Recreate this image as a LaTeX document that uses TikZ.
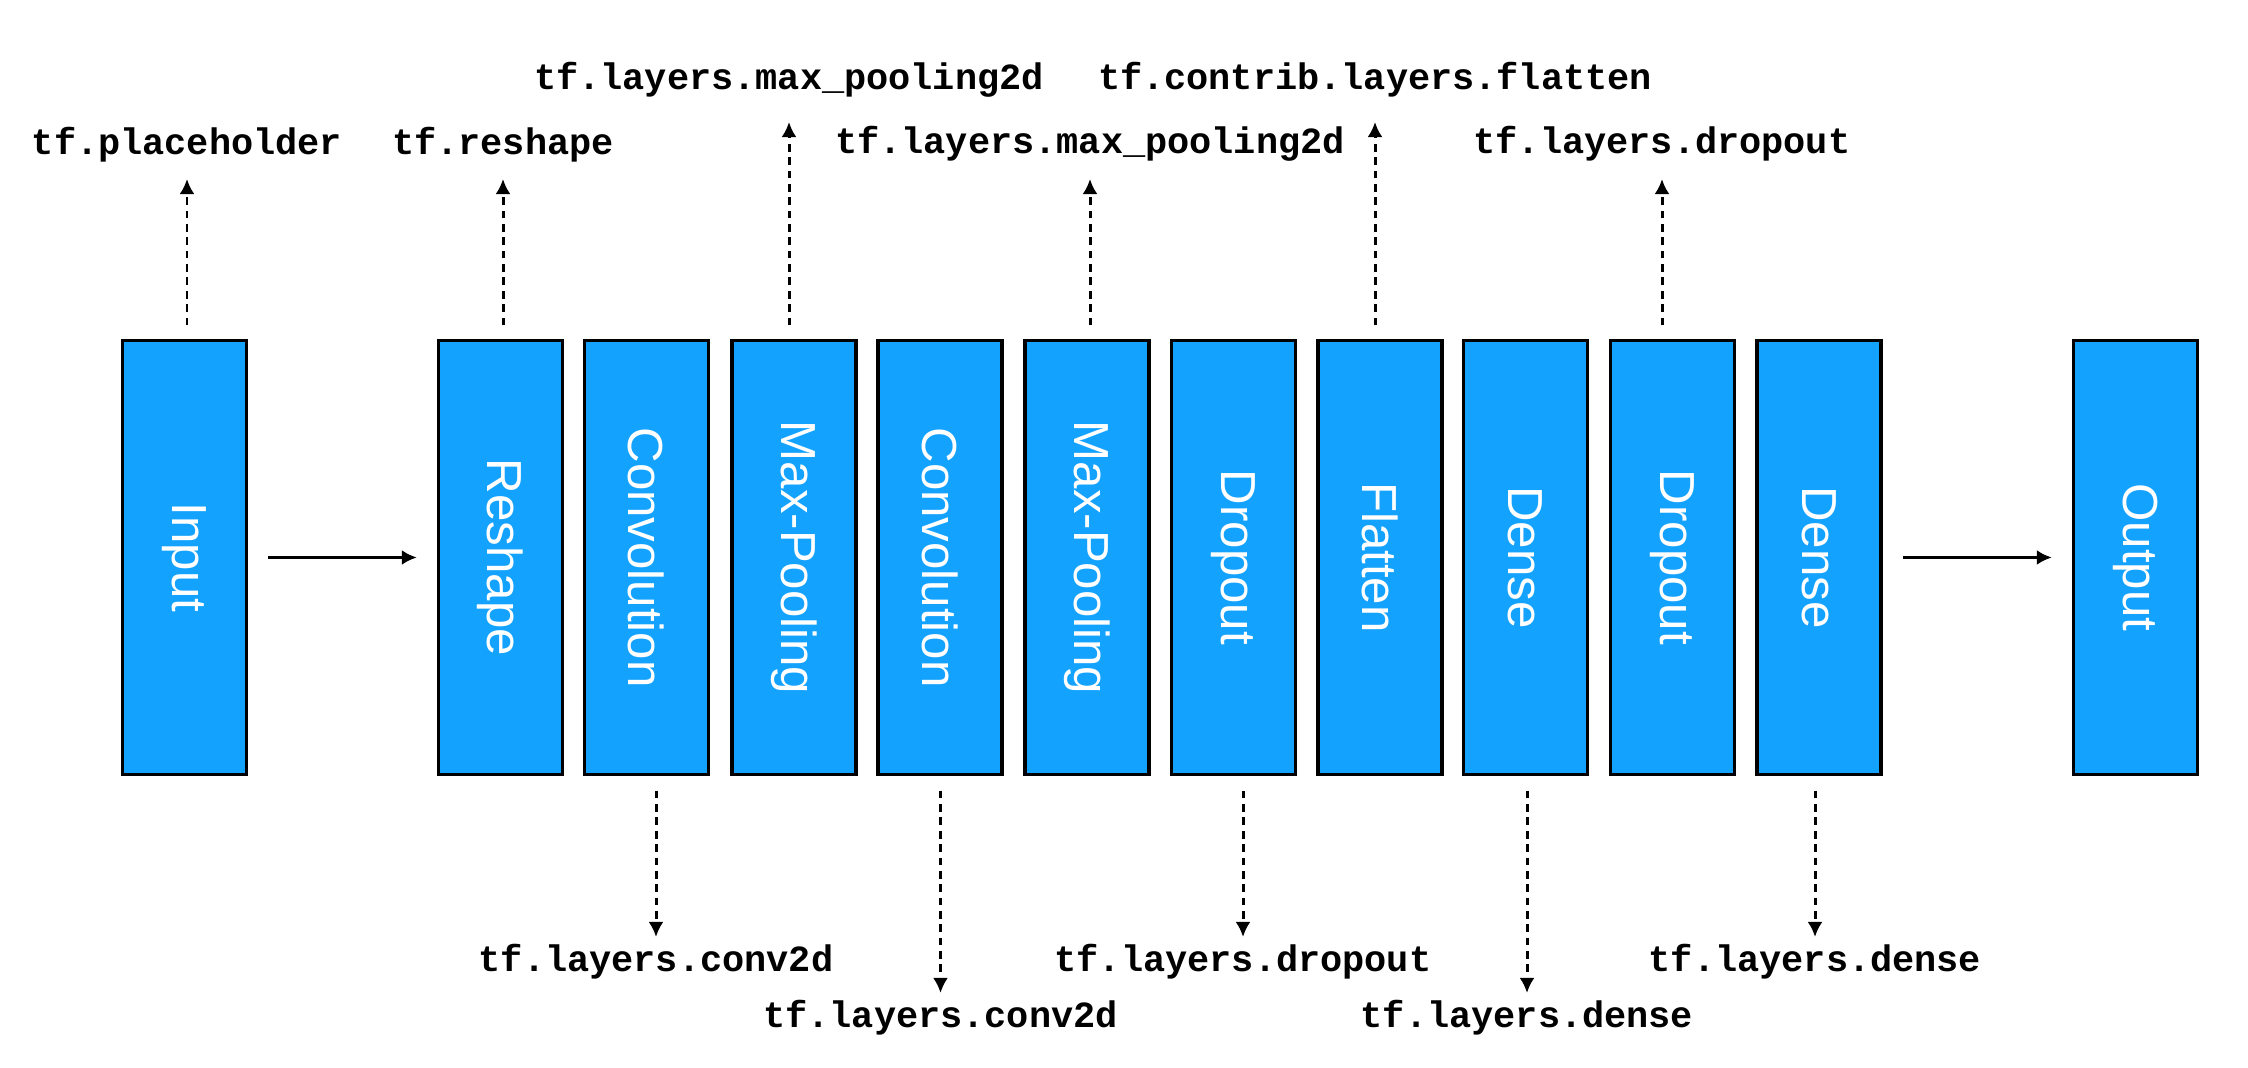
\documentclass[tikz,border=0pt]{standalone}
\usepackage{fontspec}
\setmainfont{Liberation Sans}
\setmonofont{Liberation Mono}
\usetikzlibrary{arrows.meta}
\definecolor{layerblue}{RGB}{20,162,255}

\begin{document}
\begin{tikzpicture}[x=0.01cm, y=-0.01cm]
        \tikzstyle{layer} = [draw, line width=0.9pt, fill=layerblue, minimum width=1.24cm, minimum height=4.33cm, inner sep=0pt, text=white, font=\fontsize{14}{16}\selectfont]
        \tikzstyle{api} = [anchor=base, inner sep=0pt, font=\ttfamily\bfseries\fontsize{10.5}{12}\selectfont]
        \tikzstyle{call} = [->, >={Latex[length=4.3pt,width=4.3pt]}, dash pattern=on 2.2pt off 1.6pt, line width=0.85pt]
        \tikzstyle{flow} = [->, >={Latex[length=4.3pt,width=4.3pt]}, line width=0.85pt, shorten <=0.2cm, shorten >=0.2cm]
        \useasboundingbox (0,0) rectangle (2248,1068);
        % layers
        \node[layer] (in) at (184.5, 557.5) {\rotatebox{-90}{Input}};
        \node[layer] (resh) at (500.5, 557.5) {\rotatebox{-90}{Reshape}};
        \node[layer] (conv1) at (646.5, 557.5) {\rotatebox{-90}{Convolution}};
        \node[layer] (pool1) at (794, 557.5) {\rotatebox{-90}{Max-Pooling}};
        \node[layer] (conv2) at (940, 557.5) {\rotatebox{-90}{Convolution}};
        \node[layer] (pool2) at (1087, 557.5) {\rotatebox{-90}{Max-Pooling}};
        \node[layer] (drop1) at (1233.5, 557.5) {\rotatebox{-90}{Dropout}};
        \node[layer] (flat) at (1380, 557.5) {\rotatebox{-90}{Flatten}};
        \node[layer] (dense1) at (1525.5, 557.5) {\rotatebox{-90}{Dense}};
        \node[layer] (drop2) at (1672.5, 557.5) {\rotatebox{-90}{Dropout}};
        \node[layer] (dense2) at (1819, 557.5) {\rotatebox{-90}{Dense}};
        \node[layer] (out) at (2135.5, 557.5) {\rotatebox{-90}{Output}};
        % tensorflow calls
        \node[api] (lin) at (187, 155) {tf.placeholder};
        \node[api] (lresh) at (503, 155) {tf.reshape};
        \node[api] (lpool1) at (789, 90) {tf.layers.max\_pooling2d};
        \node[api] (lpool2) at (1090, 154) {tf.layers.max\_pooling2d};
        \node[api] (lflat) at (1375, 90) {tf.contrib.layers.flatten};
        \node[api] (ldrop2) at (1662, 154) {tf.layers.dropout};
        \node[api] (lconv1) at (656, 972) {tf.layers.conv2d};
        \node[api] (lconv2) at (940.5, 1028) {tf.layers.conv2d};
        \node[api] (ldrop1) at (1243, 972) {tf.layers.dropout};
        \node[api] (ldense1) at (1527, 1028) {tf.layers.dense};
        \node[api] (ldense2) at (1815, 972) {tf.layers.dense};
        \draw[flow] (in) -- (resh);
        \draw[flow] (dense2) -- (out);
        \draw[call, shorten <=0.14cm, shorten >=0.24cm] (in.north -| lin.base) -- (lin.base);
        \draw[call, shorten <=0.14cm, shorten >=0.24cm] (resh.north -| lresh.base) -- (lresh.base);
        \draw[call, shorten <=0.14cm, shorten >=0.32cm] (pool1.north -| lpool1.base) -- (lpool1.base);
        \draw[call, shorten <=0.14cm, shorten >=0.25cm] (pool2.north -| lpool2.base) -- (lpool2.base);
        \draw[call, shorten <=0.14cm, shorten >=0.32cm] (flat.north -| lflat.base) -- (lflat.base);
        \draw[call, shorten <=0.14cm, shorten >=0.25cm] (drop2.north -| ldrop2.base) -- (ldrop2.base);
        \draw[call, shorten <=0.15cm, shorten >=0.35cm] (conv1.south -| lconv1.base) -- (lconv1.base);
        \draw[call, shorten <=0.15cm, shorten >=0.35cm] (conv2.south -| lconv2.base) -- (lconv2.base);
        \draw[call, shorten <=0.15cm, shorten >=0.35cm] (drop1.south -| ldrop1.base) -- (ldrop1.base);
        \draw[call, shorten <=0.15cm, shorten >=0.35cm] (dense1.south -| ldense1.base) -- (ldense1.base);
        \draw[call, shorten <=0.15cm, shorten >=0.35cm] (dense2.south -| ldense2.base) -- (ldense2.base);
      \end{tikzpicture}
\end{document}
